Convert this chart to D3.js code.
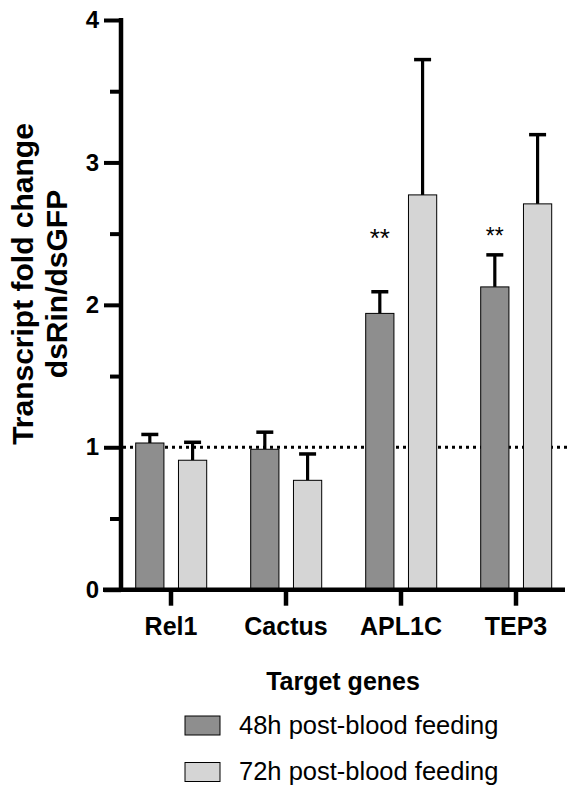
<!DOCTYPE html>
<html>
<head>
<meta charset="utf-8">
<script src="https://cdn.jsdelivr.net/npm/d3@7"></script>
<style>
  html, body { margin: 0; padding: 0; background: #fff; }
  svg { display: block; font-family: "Liberation Sans", Arial, Helvetica, sans-serif; }
</style>
</head>
<body>
<svg id="chart" width="569" height="787"></svg>
<script>
// ---- data ----
const categories = ["Rel1", "Cactus", "APL1C", "TEP3"];
const seriesNames = ["48h post-blood feeding", "72h post-blood feeding"];
const mean48 = [1.03, 0.986, 1.94, 2.126];
const sem48  = [0.06, 0.12, 0.152, 0.225];
const mean72 = [0.909, 0.768, 2.772, 2.709];
const sem72  = [0.126, 0.185, 0.95, 0.486];
const sig48  = ["", "", "**", "**"];
const yTicks = [0, 1, 2, 3, 4];
const yMinorTicks = [0.5, 1.5, 2.5, 3.5];
const refLine = 1;

const colors = ["#8e8e8e", "#d5d5d5"];

const rows = categories.map((c, i) => ({
  cat: c,
  bars: [
    { s: 0, mean: mean48[i], sem: sem48[i], sig: sig48[i] },
    { s: 1, mean: mean72[i], sem: sem72[i], sig: "" }
  ]
}));

const svg = d3.select("#chart");

const axisX = 121;   // y-axis line position
const y = d3.scaleLinear().domain([0, 4]).range([589.7, 20]);
const x = d3.scaleBand().domain(categories).range([113.5, 573.5]).padding(0);
const xSub = d3.scaleBand().domain([0, 1]).range([22.2, 93.2]).paddingInner(0.34).paddingOuter(0);

// reference dotted line
svg.append("line")
  .attr("x1", axisX + 2).attr("x2", 569)
  .attr("y1", y(refLine)).attr("y2", y(refLine))
  .attr("stroke", "#000").attr("stroke-width", 3)
  .attr("stroke-dasharray", "3 4");

// bars
const g = svg.selectAll("g.grp").data(rows).join("g")
  .attr("class", "grp")
  .attr("transform", d => `translate(${x(d.cat)},0)`);

// error bars (upper only), drawn first so bars cover the base
g.selectAll("g.err").data(d => d.bars).join("g").attr("class", "err").each(function(d) {
  const cx = xSub(d.s) + xSub.bandwidth() / 2;
  const sel = d3.select(this);
  sel.append("line")
    .attr("x1", cx).attr("x2", cx)
    .attr("y1", y(d.mean)).attr("y2", y(d.mean + d.sem))
    .attr("stroke", "#000").attr("stroke-width", 3.2);
  sel.append("line")
    .attr("x1", cx - 8.5).attr("x2", cx + 8.5)
    .attr("y1", y(d.mean + d.sem)).attr("y2", y(d.mean + d.sem))
    .attr("stroke", "#000").attr("stroke-width", 3.5);
});

g.selectAll("rect").data(d => d.bars).join("rect")
  .attr("x", d => xSub(d.s))
  .attr("width", xSub.bandwidth())
  .attr("y", d => y(d.mean))
  .attr("height", d => y(0) - y(d.mean))
  .attr("fill", d => colors[d.s])
  .attr("stroke", "#000").attr("stroke-width", 1);

// significance stars
g.selectAll("text.sig").data(d => d.bars.filter(b => b.sig)).join("text")
  .attr("class", "sig")
  .attr("x", d => xSub(d.s) + xSub.bandwidth() / 2)
  .attr("y", 247)
  .attr("text-anchor", "middle")
  .attr("font-size", (d, i, n) => 26)
  .text(d => d.sig);

// resize TEP3 stars slightly smaller as in reference
svg.selectAll("g.grp").filter(d => d.cat === "TEP3").select("text.sig")
  .attr("font-size", 23).attr("y", 244);

// y axis
const yAxis = d3.axisLeft(y).tickValues(yTicks).tickSize(17).tickPadding(5).tickFormat(d3.format("d"));
const ya = svg.append("g").attr("transform", `translate(${axisX},0)`).call(yAxis);
ya.select(".domain").remove();
ya.selectAll(".tick line").attr("stroke", "#000").attr("stroke-width", 4);
ya.selectAll(".tick text").attr("font-size", 24).attr("font-weight", "bold").attr("fill", "#000")
  .attr("font-family", "Liberation Sans, Arial, sans-serif");

const yMinor = d3.axisLeft(y).tickValues(yMinorTicks).tickSize(11).tickFormat("");
const ym = svg.append("g").attr("transform", `translate(${axisX},0)`).call(yMinor);
ym.select(".domain").remove();
ym.selectAll(".tick line").attr("stroke", "#000").attr("stroke-width", 4);

svg.append("line")
  .attr("x1", axisX).attr("x2", axisX)
  .attr("y1", y(4) - 2).attr("y2", y(0) + 2)
  .attr("stroke", "#000").attr("stroke-width", 4.5);

// x axis
const xAxis = d3.axisBottom(x).tickSize(16).tickPadding(14);
const xa = svg.append("g").attr("transform", `translate(0,${y(0)})`).call(xAxis);
xa.select(".domain").remove();
xa.selectAll(".tick line").attr("stroke", "#000").attr("stroke-width", 4.5);
xa.selectAll(".tick text").attr("font-size", 25).attr("font-weight", "bold").attr("fill", "#000")
  .attr("font-family", "Liberation Sans, Arial, sans-serif")
  .attr("dy", null).attr("y", 0)
  .attr("transform", "translate(0,45.5)");

svg.append("line")
  .attr("x1", 103).attr("x2", 565)
  .attr("y1", y(0)).attr("y2", y(0))
  .attr("stroke", "#000").attr("stroke-width", 4.5);

// y title
const yt = svg.append("text")
  .attr("transform", "translate(33,284) rotate(-90)")
  .attr("text-anchor", "middle")
  .attr("font-size", 30).attr("font-weight", "bold");
yt.append("tspan").attr("x", 0).attr("y", 0).text("Transcript fold change");
yt.append("tspan").attr("x", 0).attr("y", 33.5).text("dsRin/dsGFP");

// x title
svg.append("text")
  .attr("x", 343).attr("y", 690)
  .attr("text-anchor", "middle")
  .attr("font-size", 25).attr("font-weight", "bold")
  .text("Target genes");

// legend
const leg = svg.selectAll("g.leg").data(seriesNames).join("g")
  .attr("class", "leg")
  .attr("transform", (d, i) => `translate(185,${716 + i * 46.5})`);
leg.append("rect")
  .attr("x", 0).attr("y", 0).attr("width", 35).attr("height", 19)
  .attr("fill", (d, i) => colors[i]).attr("stroke", "#000").attr("stroke-width", 1);
leg.append("text")
  .attr("x", 54).attr("y", 17.5)
  .attr("font-size", 25.5)
  .text(d => d);
</script>
</body>
</html>
